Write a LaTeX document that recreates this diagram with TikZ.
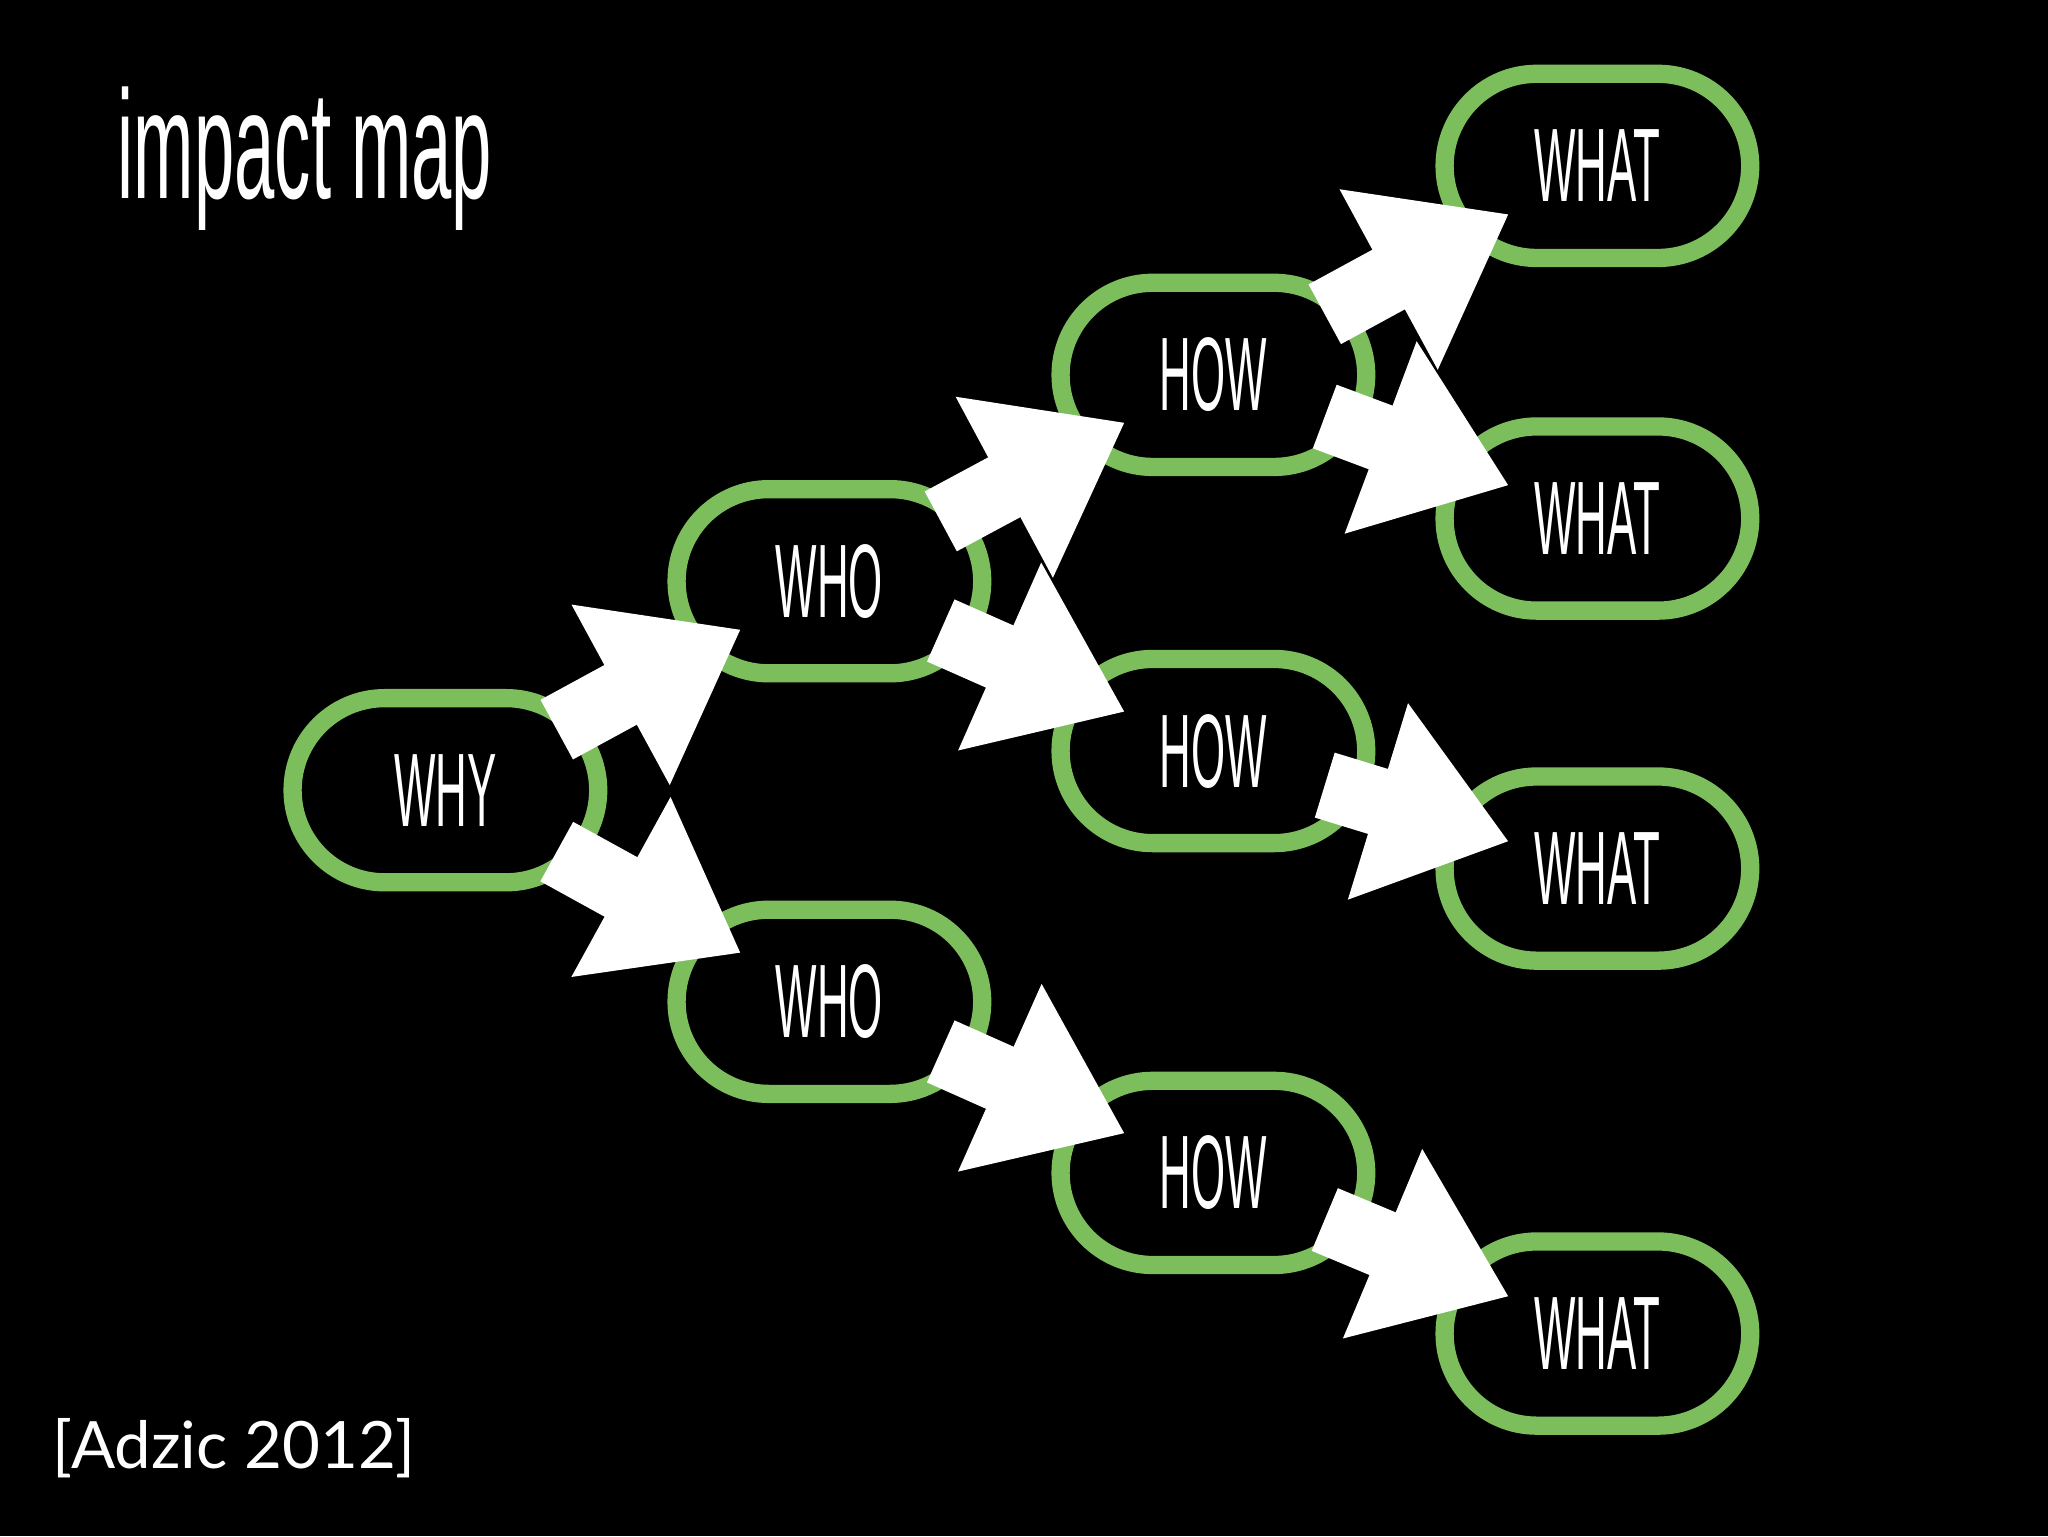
\documentclass[tikz,border=0pt]{standalone}
\usepackage{fontspec}
\setmainfont{Liberation Sans}
\newfontfamily\capfont{Lato}
\usetikzlibrary{arrows.meta,calc,shapes.misc}
\definecolor{mapgreen}{RGB}{125,190,92}
\tikzset{
  mapnode/.style={rounded rectangle, draw=mapgreen, line width=14pt, fill=black,
    minimum width=234pt, minimum height=141pt, inner sep=0pt, text=white,
    font=\fontsize{80}{80}\selectfont},
  fatarrow/.style={white, line width=52pt, -{Triangle[width=150pt,length=105pt]}}
}
\newcommand{\cond}[1]{\scalebox{0.42}[1]{#1}}
\begin{document}
\begin{tikzpicture}[x=1pt,y=-1pt]
\fill[black] (0,0) rectangle (1568,1176);
\useasboundingbox (0,0) rectangle (1568,1176);
\node[anchor=base west,text=white,inner sep=0pt,font=\fontsize{118}{118}\selectfont] (title) at (90,152) {\scalebox{0.47}[1]{impact map}};
\node[anchor=base west,text=white,inner sep=0pt,font=\capfont\fontsize{50}{50}\selectfont] (cite) at (40,1124) {[Adzic 2012]};
\node[mapnode] (why) at (341,605) {\cond{WHY}};
\node[mapnode] (who1) at (635,445) {\cond{WHO}};
\node[mapnode] (who2) at (635,767) {\cond{WHO}};
\node[mapnode] (how1) at (929,287) {\cond{HOW}};
\node[mapnode] (how2) at (929,575) {\cond{HOW}};
\node[mapnode] (how3) at (929,898) {\cond{HOW}};
\node[mapnode] (what1) at (1223,127) {\cond{WHAT}};
\node[mapnode] (what2) at (1223,397) {\cond{WHAT}};
\node[mapnode] (what3) at (1223,665) {\cond{WHAT}};
\node[mapnode] (what4) at (1223,1021) {\cond{WHAT}};
\foreach \a/\b in {why/who1,why/who2,who1/how1,who1/how2,who2/how3,how1/what1,how1/what2,how2/what3,how3/what4}
  \draw[fatarrow] ($(\a)!0.29!(\b)$) -- ($(\a)!0.77!(\b)$);
\end{tikzpicture}
\end{document}
